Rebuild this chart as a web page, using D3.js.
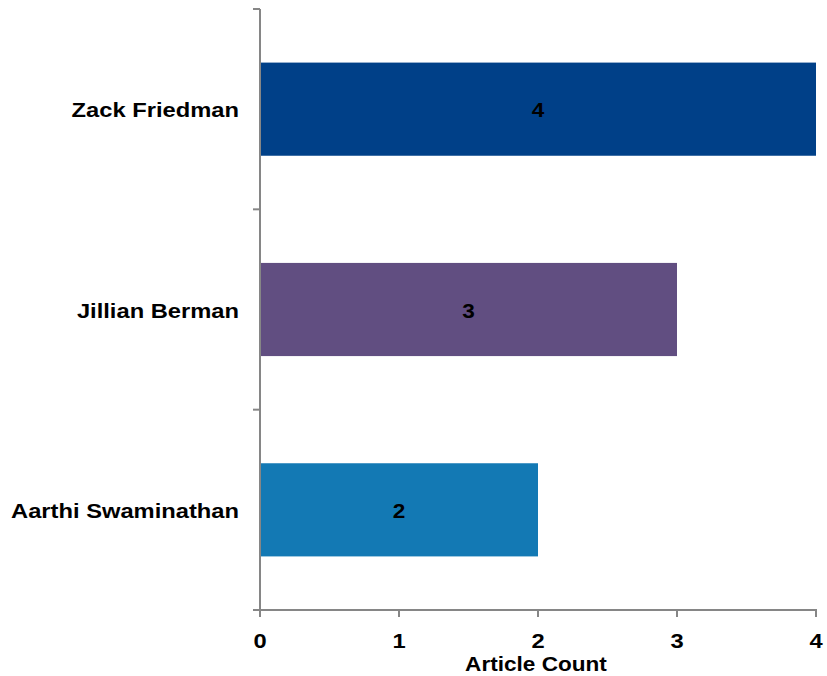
<html>
  <head>
    <meta charset="utf-8">
    <title>Article Count</title>
    <style>
      body { margin: 0; background: #fff; }
      text { font-family: "Liberation Sans", Arial, sans-serif; font-weight: bold; fill: #000; }
    </style>
  </head>
  <body>
    <script src="https://cdn.jsdelivr.net/npm/d3@7/dist/d3.min.js"></script>
    <script>
      var width = 827, height = 676;

      // data
      var authors = ["Zack Friedman", "Jillian Berman", "Aarthi Swaminathan"];
      var counts = [4, 3, 2];
      var barColors = ["#004088", "#614E81", "#1379B4"];
      var xTicks = [0, 1, 2, 3, 4];

      var mLeft = 260, mRight = 816, mTop = 9, mBottom = 610;
      var stretch = 1.13; // labels in the reference are a bit wide

      var svg = d3.select("body").append("svg")
        .attr("width", width)
        .attr("height", height);

      var x = d3.scaleLinear().domain([0, 4]).range([mLeft, mRight]);
      var y = d3.scaleBand().domain(authors).range([mTop, mBottom]).padding(0);
      var barH = y.bandwidth() * 0.465;

      // bars
      svg.selectAll(".bar")
        .data(authors)
        .enter()
        .append("rect")
        .attr("class", "bar")
        .attr("x", x(0))
        .attr("y", d => y(d) + y.bandwidth() / 2 - barH / 2)
        .attr("width", (d, i) => x(counts[i]) - x(0))
        .attr("height", barH)
        .attr("fill", (d, i) => barColors[i]);

      // value labels
      svg.selectAll(".val")
        .data(authors)
        .enter()
        .append("text")
        .attr("class", "val")
        .attr("transform", (d, i) => "translate(" + (x(0) + x(counts[i])) / 2 + "," + (y(d) + y.bandwidth() / 2 + 8) + ") scale(" + stretch + ",1)")
        .attr("text-anchor", "middle")
        .style("font-size", "20px")
        .text((d, i) => counts[i]);

      // y axis: line + ticks at category boundaries
      var axisColor = "#868686";
      svg.append("line")
        .attr("x1", mLeft).attr("x2", mLeft)
        .attr("y1", mTop).attr("y2", mBottom)
        .attr("stroke", axisColor).attr("stroke-width", 2);
      var bounds = authors.map(d => y(d)).concat([mBottom]);
      svg.selectAll(".ytick")
        .data(bounds)
        .enter()
        .append("line")
        .attr("x1", mLeft - 7).attr("x2", mLeft)
        .attr("y1", d => d).attr("y2", d => d)
        .attr("stroke", axisColor).attr("stroke-width", 2);

      // category labels
      svg.selectAll(".cat")
        .data(authors)
        .enter()
        .append("text")
        .attr("class", "cat")
        .attr("transform", d => "translate(239," + (y(d) + y.bandwidth() / 2 + 8) + ") scale(" + stretch + ",1)")
        .attr("text-anchor", "end")
        .style("font-size", "21px")
        .text(d => d);

      // x axis
      svg.append("line")
        .attr("x1", mLeft - 7).attr("x2", mRight + 1)
        .attr("y1", mBottom).attr("y2", mBottom)
        .attr("stroke", axisColor).attr("stroke-width", 2);
      svg.selectAll(".xtick")
        .data(xTicks)
        .enter()
        .append("line")
        .attr("x1", d => x(d)).attr("x2", d => x(d))
        .attr("y1", mBottom).attr("y2", mBottom + 7)
        .attr("stroke", axisColor).attr("stroke-width", 2);
      svg.selectAll(".xlab")
        .data(xTicks)
        .enter()
        .append("text")
        .attr("class", "xlab")
        .attr("transform", d => "translate(" + x(d) + ",648) scale(" + stretch + ",1)")
        .attr("text-anchor", "middle")
        .style("font-size", "21px")
        .text(d => d);

      svg.append("text")
        .attr("transform", "translate(536,671) scale(" + stretch + ",1)")
        .attr("text-anchor", "middle")
        .style("font-size", "20px")
        .text("Article Count");
    </script>
  </body>
</html>
